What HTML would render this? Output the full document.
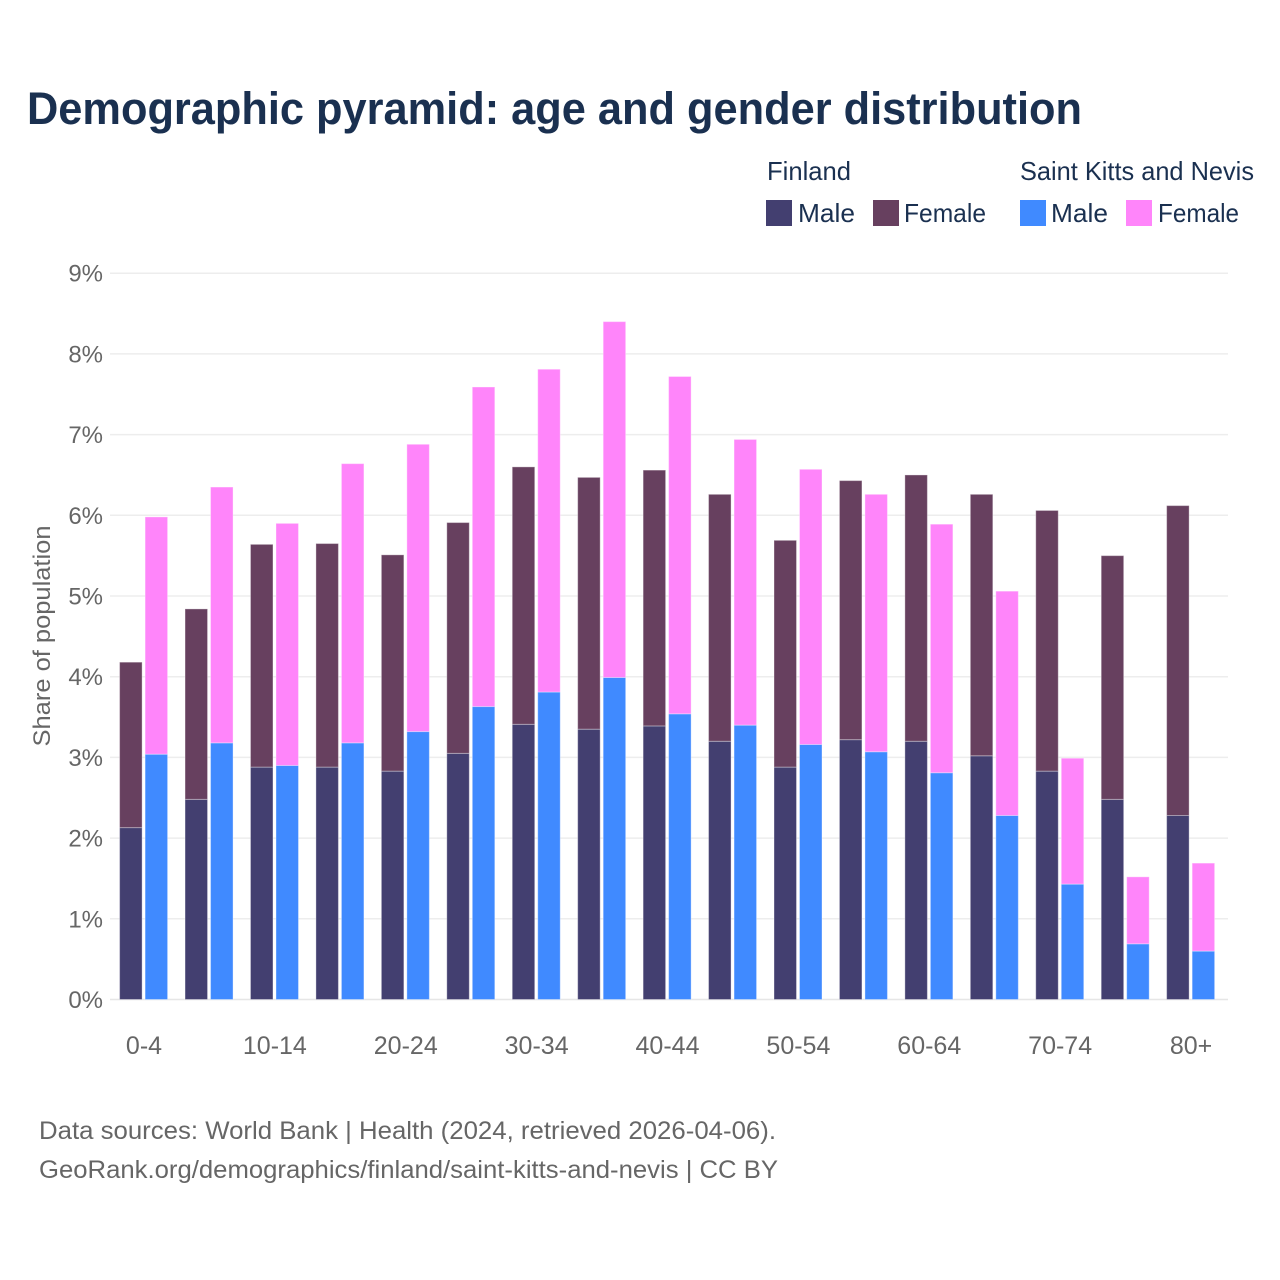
<!DOCTYPE html>
<html lang="en">
<head>
<meta charset="utf-8">
<title>Demographic pyramid</title>
<style>
html,body{margin:0;padding:0;background:#fff}
svg{display:block}
text{font-family:"Liberation Sans",sans-serif}
</style>
</head>
<body>
<svg id="chart" xmlns="http://www.w3.org/2000/svg" width="1280" height="1280" viewBox="0 0 1280 1280">
<rect x="0" y="0" width="1280" height="1280" fill="#fff"/>
<text x="27" y="124" font-size="45" font-weight="700" fill="#1a3050" textLength="1055" lengthAdjust="spacingAndGlyphs">Demographic pyramid: age and gender distribution</text>
<g id="grid"></g>
<g id="bars"></g>
<g id="ylabels"></g>
<g id="xlabels"></g>
<text transform="translate(50,636) rotate(-90)" text-anchor="middle" font-size="24" fill="#666" textLength="221" lengthAdjust="spacingAndGlyphs">Share of population</text>
<g font-size="26" fill="#1a3050">
<text x="767" y="180" textLength="84" lengthAdjust="spacingAndGlyphs">Finland</text>
<text x="1020" y="180" textLength="234" lengthAdjust="spacingAndGlyphs">Saint Kitts and Nevis</text>
<rect x="766" y="200" width="26" height="26" fill="#433f70"/>
<text x="798" y="222" textLength="57" lengthAdjust="spacingAndGlyphs">Male</text>
<rect x="873" y="200" width="26" height="26" fill="#67405f"/>
<text x="904" y="222" textLength="82" lengthAdjust="spacingAndGlyphs">Female</text>
<rect x="1020" y="200" width="26" height="26" fill="#408aff"/>
<text x="1051" y="222" textLength="57" lengthAdjust="spacingAndGlyphs">Male</text>
<rect x="1126" y="200" width="26" height="26" fill="#ff85fa"/>
<text x="1158" y="222" textLength="81" lengthAdjust="spacingAndGlyphs">Female</text>
</g>
<text x="39" y="1139" font-size="25" fill="#666" textLength="737" lengthAdjust="spacingAndGlyphs">Data sources: World Bank | Health (2024, retrieved 2026-04-06).</text>
<text x="39" y="1178" font-size="25" fill="#666" textLength="739" lengthAdjust="spacingAndGlyphs">GeoRank.org/demographics/finland/saint-kitts-and-nevis | CC BY</text>
</svg>
<script>
const categories = ['0-4','5-9','10-14','15-19','20-24','25-29','30-34','35-39','40-44','45-49','50-54','55-59','60-64','65-69','70-74','75-79','80+'];
const finlandMale = [2.13,2.48,2.88,2.88,2.83,3.05,3.41,3.35,3.39,3.20,2.88,3.22,3.20,3.02,2.83,2.48,2.28];
const finlandFemale = [2.05,2.36,2.76,2.77,2.68,2.86,3.19,3.12,3.17,3.06,2.81,3.21,3.30,3.24,3.23,3.02,3.84];
const sknMale = [3.04,3.18,2.90,3.18,3.32,3.63,3.81,3.99,3.54,3.40,3.16,3.07,2.81,2.28,1.43,0.69,0.60];
const sknFemale = [2.94,3.17,3.00,3.46,3.56,3.96,4.00,4.41,4.18,3.54,3.41,3.19,3.08,2.78,1.56,0.83,1.09];
const yTicks = [0,1,2,3,4,5,6,7,8,9];

const NS = 'http://www.w3.org/2000/svg';
const yScale = v => 999.5 - v * 80.7;
const xCenter = i => 143.6 + i * 65.44;
const barW = 22.5;
const barGap = 1.5;

function make(tag, attrs, parent) {
  const el = document.createElementNS(NS, tag);
  for (const k in attrs) el.setAttribute(k, attrs[k]);
  parent.appendChild(el);
  return el;
}

const gridG = document.getElementById('grid');
const yLabG = document.getElementById('ylabels');
const xLabG = document.getElementById('xlabels');
const barsG = document.getElementById('bars');

yTicks.forEach(t => {
  const line = make('line', {x1: 110, x2: 1228, y1: yScale(t), y2: yScale(t), stroke: t === 0 ? '#e6e6e6' : '#ededed', 'stroke-width': 1.5}, gridG);
  
  
  const lab = make('text', {x: 103, y: yScale(t) + 8.5, 'text-anchor': 'end', 'font-size': 24, fill: '#666'}, yLabG);
  lab.textContent = t + '%';
  
  
});

function drawBar(x, base, value, color, g) {
  const top = yScale(base + value);
  const r = make('rect', {x: x, y: top, width: barW, height: yScale(base) - top, fill: color, stroke: '#fff', 'stroke-opacity': 0.35, 'stroke-width': 1}, g);
  
  
}

categories.forEach((c, i) => {
  const cx = xCenter(i);
  const g = make('g', {}, barsG);
  
  
  const xF = cx - barW - barGap;
  const xS = cx + barGap;
  drawBar(xF, 0, finlandMale[i], '#433f70', g);
  drawBar(xF, finlandMale[i], finlandFemale[i], '#67405f', g);
  drawBar(xS, 0, sknMale[i], '#408aff', g);
  drawBar(xS, sknMale[i], sknFemale[i], '#ff85fa', g);
  if (i % 2 === 0) {
    const lab = make('text', {x: xCenter(i) + 0.4, y: 1054, 'text-anchor': 'middle', 'font-size': 25, fill: '#666'}, xLabG);
    lab.textContent = c;
    
    
  }
});
</script>
</body>
</html>
